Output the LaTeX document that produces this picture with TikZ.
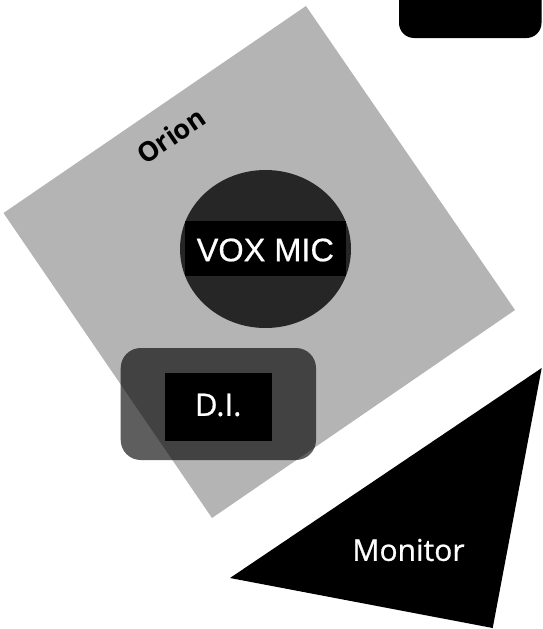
\documentclass[tikz,border=0pt]{standalone}
\usepackage{fontspec}
\setmainfont{Liberation Sans}
\newfontfamily\opensans[FakeBold=0.8]{Open Sans}
\newfontfamily\orionfont{Open Sans}
\newfontfamily\voxfont[FakeBold=0.6]{Liberation Sans}
\definecolor{sqgray}{RGB}{180,180,180}
\definecolor{micfill}{RGB}{38,38,38}
\begin{document}
\begin{tikzpicture}[x=1pt,y=-1pt,
  lbl/.style={text=white,inner sep=0pt},
  blackbox/.style={fill=black,draw=none,inner sep=0pt}]
\useasboundingbox (0,0) rectangle (542,629);
% stage area
\coordinate (sqT) at (306,6);
\coordinate (sqR) at (515,310);
\coordinate (sqB) at (212,518);
\coordinate (sqL) at (3.5,213);
\fill[sqgray] (sqT) -- (sqR) -- (sqB) -- (sqL) -- cycle;
\node[rotate=34.4,inner sep=0pt,font=\orionfont\bfseries\fontsize{27}{29}\selectfont] (orion) at (171,136) {Orion};
% top right box
\fill[black,rounded corners=15pt] (399,-30) rectangle (541.5,38);
\node[inner sep=0pt] (topbox) at (470,10) {};
% vox mic
\fill[micfill] (265.5,249) ellipse [x radius=85.5, y radius=79];
\node[blackbox,minimum width=160.7pt,minimum height=54.7pt] (voxbox) at (265.35,248.35) {};
\node[lbl,font=\voxfont\fontsize{32.5}{34}\selectfont] (vox) at (265.35,250) {VOX MIC};
% D.I.
\fill[black,fill opacity=0.63,rounded corners=20pt] (120.7,348) rectangle (316,460);
\node[blackbox,minimum width=106.7pt,minimum height=68pt] (dibox) at (218.2,406.7) {};
\node[lbl,font=\opensans\fontsize{31}{33}\selectfont] (di) at (218.2,405) {D.I.};
% monitor
\coordinate (trL) at (230,578);
\coordinate (trT) at (541.7,368);
\coordinate (trB) at (492.7,628);
\fill[black] (trL) -- (trT) -- (trB) -- cycle;
\node[lbl,font=\opensans\fontsize{30}{32}\selectfont] (mon) at (408.5,550) {Monitor};
\end{tikzpicture}
\end{document}
